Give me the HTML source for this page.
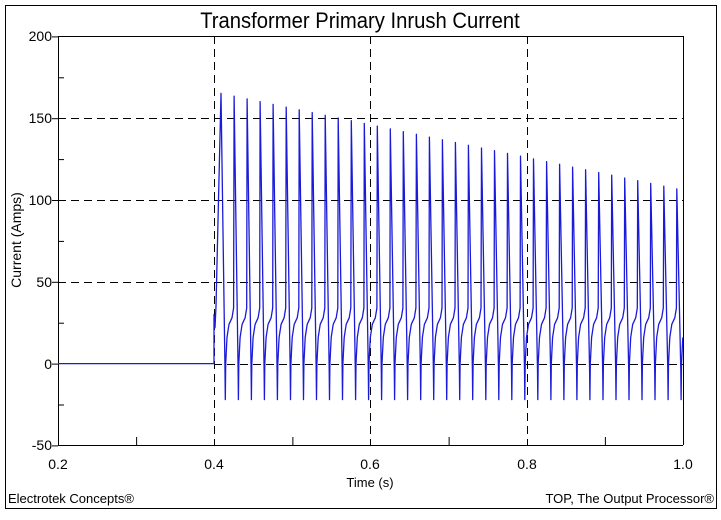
<!DOCTYPE html>
<html><head><meta charset="utf-8"><style>
html,body{margin:0;padding:0;background:#fff;}
svg{display:block;font-family:"Liberation Sans",sans-serif;}
</style></head><body>
<svg id="s" width="721" height="520" viewBox="0 0 721 520" xmlns="http://www.w3.org/2000/svg">
<rect x="0" y="0" width="721" height="520" fill="#fff"/>
<rect x="5.5" y="5.5" width="711" height="503" fill="none" stroke="#000" stroke-width="1"/>
<text x="360" y="28" font-size="22" text-anchor="middle" transform="translate(360,0) scale(0.92,1) translate(-360,0)">Transformer Primary Inrush Current</text>
<g stroke="#000" stroke-width="1" stroke-dasharray="8,5">
<line x1="58" y1="118.5" x2="683" y2="118.5"/>
<line x1="58" y1="200.5" x2="683" y2="200.5"/>
<line x1="58" y1="282.5" x2="683" y2="282.5"/>
<line x1="214.5" y1="36" x2="214.5" y2="445"/>
<line x1="370.5" y1="36" x2="370.5" y2="445"/>
<line x1="527.5" y1="36" x2="527.5" y2="445"/>
<line x1="214" y1="364.5" x2="683" y2="364.5"/>
</g>
<g stroke="#000" stroke-width="1">
<line x1="58.5" y1="36" x2="58.5" y2="445"/>
<line x1="683.5" y1="36" x2="683.5" y2="445"/>
<line x1="58" y1="36.5" x2="683" y2="36.5"/>
<line x1="58" y1="445.5" x2="683" y2="445.5"/>
<g id="ticks"></g>
</g>
<g font-size="14" text-anchor="end">
<text x="52" y="41">200</text><text x="52" y="123">150</text><text x="52" y="205">100</text>
<text x="52" y="287">50</text><text x="52" y="369">0</text><text x="52" y="450">-50</text>
</g>
<g font-size="14" text-anchor="middle">
<text x="58" y="469">0.2</text><text x="214" y="469">0.4</text><text x="370" y="469">0.6</text>
<text x="527" y="469">0.8</text><text x="683" y="469">1.0</text>
<text x="370" y="487" font-size="13">Time (s)</text>
</g>
<text x="0" y="0" font-size="14" text-anchor="middle" transform="translate(21,240) rotate(-90)">Current (Amps)</text>
<text x="8" y="503" font-size="13">Electrotek Concepts®</text>
<text x="714" y="503" font-size="13" text-anchor="end">TOP, The Output Processor®</text>
<polyline id="w" fill="none" stroke="#1a1ad8" stroke-width="1.3" stroke-linejoin="round"/>
</svg>
<script>
var X=t=>58+(t-0.2)*781.25, Y=v=>363.6-v*1.636;
var tk=document.getElementById('ticks'),h='';
for(var v=-25;v<200;v+=50){h+='<line x1="58" y1="'+(Y(v)+.5)+'" x2="64" y2="'+(Y(v)+.5)+'"/>';}
for(var v=-50;v<=200;v+=50){h+='<line x1="52" y1="'+(Y(v)+.5)+'" x2="58" y2="'+(Y(v)+.5)+'"/>';}
[0.3,0.5,0.7,0.9].forEach(t=>{h+='<line x1="'+(X(t)+.5)+'" y1="437" x2="'+(X(t)+.5)+'" y2="445"/>';});
tk.innerHTML=h;
var p=[[58,Y(0)],[214,Y(0)],[214,Y(30)],[215,Y(22)],[216,Y(35)]];
var dt=1/60;
for(var k=0;k<37;k++){
  var tp=0.4087+k*dt; var xp=X(tp); if(xp>684)break;
  var P=165-(tp-0.41)*100;
  var seg=[[0,P],[4,-4],[4.3,-22],[4.7,0],[6,16],[8,24],[11,28],[12.6,34]];
  seg.forEach(s=>{var x=xp+s[0]; if(x<=683)p.push([x,Y(s[1])]);});
}
document.getElementById('w').setAttribute('points',p.map(q=>q[0].toFixed(1)+','+q[1].toFixed(1)).join(' '));
</script>
</body></html>
